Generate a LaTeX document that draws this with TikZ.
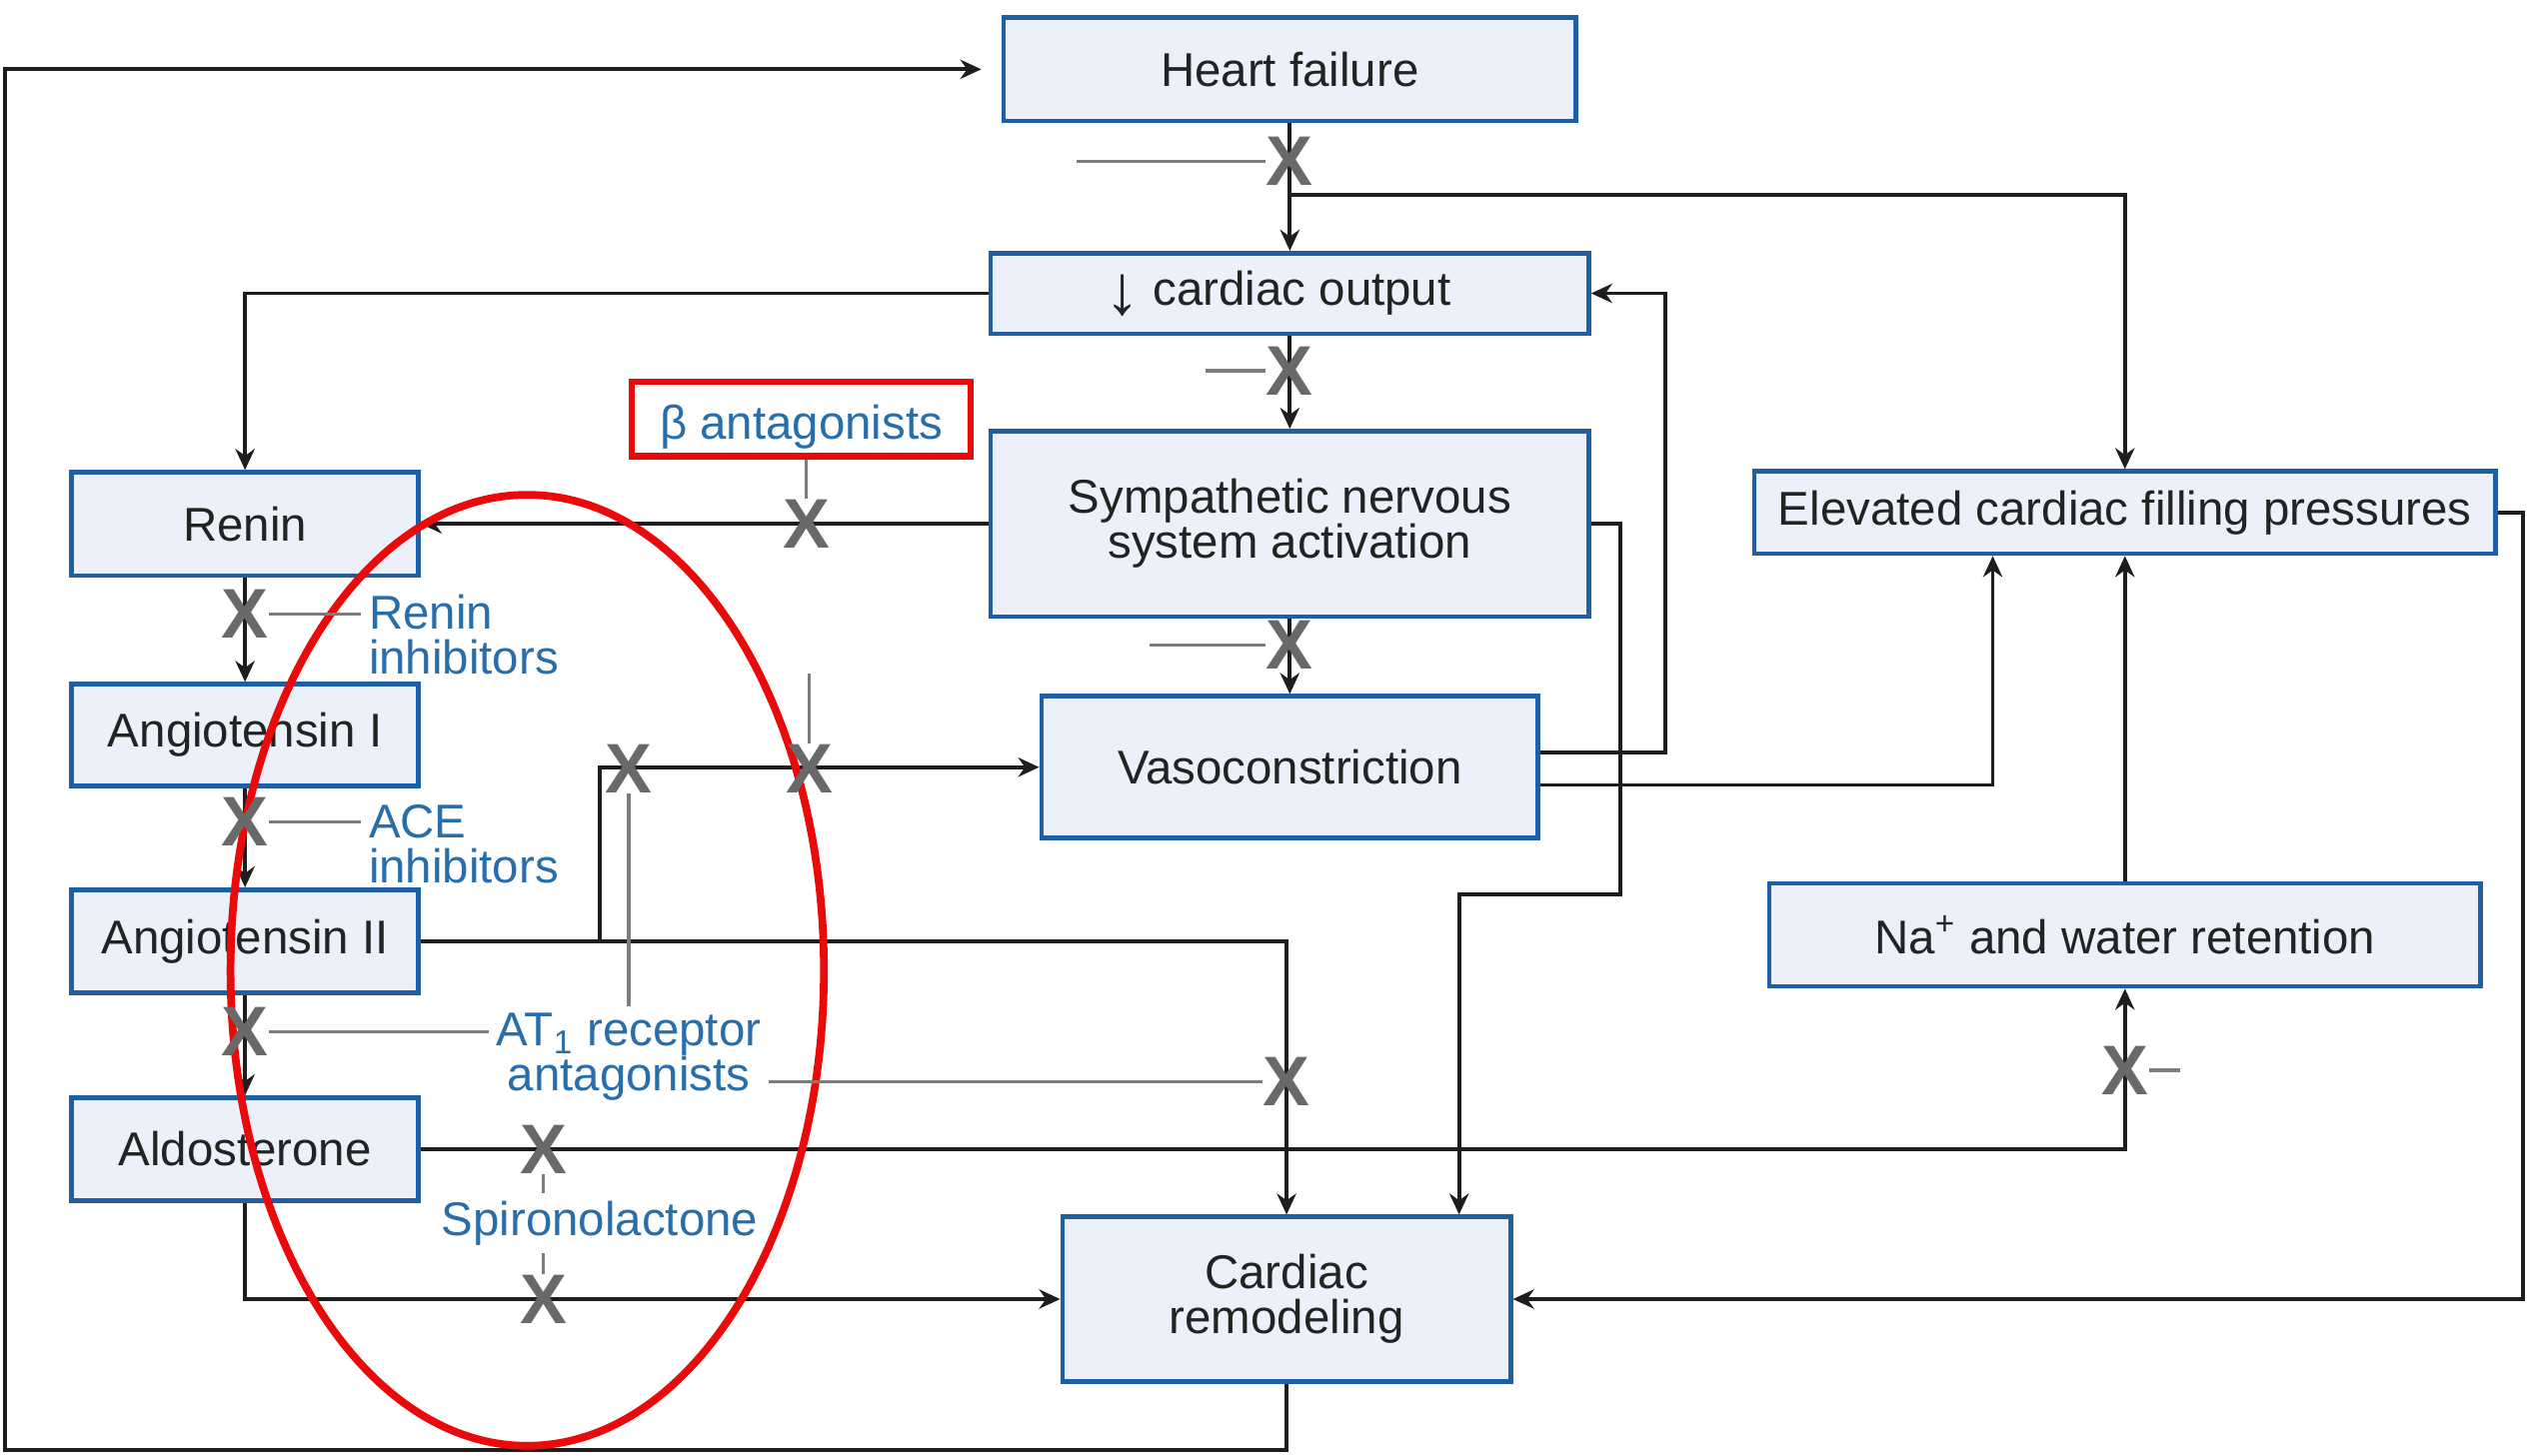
\documentclass[tikz,border=0pt]{standalone}
\usepackage{fontspec}
\setmainfont{Liberation Sans}
\usetikzlibrary{arrows.meta,calc}
\definecolor{boxblue}{RGB}{30,95,165}
\definecolor{boxfill}{RGB}{236,241,249}
\definecolor{lblblue}{RGB}{40,110,170}
\definecolor{xgray}{RGB}{105,105,105}
\definecolor{inhgray}{RGB}{125,125,125}
\definecolor{txt}{RGB}{35,35,35}
\definecolor{conncol}{RGB}{30,30,30}
\definecolor{hired}{RGB}{235,10,10}
\begin{document}
\begin{tikzpicture}[x=0.016129cm,y=-0.016129cm,
 box/.style={draw=boxblue,fill=boxfill,line width=1.3pt,text=txt,font=\fontsize{13.5}{12.8}\selectfont,align=center,inner sep=0pt},
 conn/.style={draw=conncol,line width=1.1pt},
 arr/.style={conn,-{Stealth[length=6pt,width=5.5pt]}},
 xmark/.style={text=xgray,font=\fontsize{20}{20}\bfseries,inner sep=0pt},
 inh/.style={draw=inhgray,line width=0.9pt},
 lbl/.style={text=lblblue,font=\fontsize{13.5}{12.8}\selectfont,inner sep=2pt},
 ]
\useasboundingbox (0,0) rectangle (1568,903);
% boxes
\node[box,minimum width=5.726cm,minimum height=1.032cm] (hf) at (800,43) {Heart failure};
\node[box,minimum width=5.984cm,minimum height=0.806cm] (co) at (800,182) {\raisebox{-0.35ex}{\fontsize{20}{20}\selectfont ↓} cardiac output\hspace{0.5em}};
\node[box,minimum width=5.984cm,minimum height=1.855cm] (sns) at (800,325) {Sympathetic nervous\\system activation};
\node[box,minimum width=4.968cm,minimum height=1.419cm] (vaso) at (800,476) {Vasoconstriction};
\node[box,minimum width=7.419cm,minimum height=0.823cm] (ecfp) at (1318,318) {Elevated cardiac filling pressures};
\node[box,minimum width=7.113cm,minimum height=1.032cm] (na) at (1318,580) {Na\textsuperscript{+} and water retention};
\node[box,minimum width=4.484cm,minimum height=1.645cm] (cr) at (798,806) {Cardiac\\remodeling};
\node[box,minimum width=3.468cm,minimum height=1.032cm] (renin) at (152,325) {Renin};
\node[box,minimum width=3.468cm,minimum height=1.016cm] (ang1) at (152,456) {Angiotensin I};
\node[box,minimum width=3.468cm,minimum height=1.032cm] (ang2) at (152,584) {Angiotensin II};
\node[box,minimum width=3.468cm,minimum height=1.032cm] (aldo) at (152,713) {Aldosterone};
\node[draw=hired,line width=1.8pt,minimum width=3.387cm,minimum height=0.742cm,text=lblblue,font=\fontsize{13.5}{14}\selectfont,inner sep=0pt,text height=14pt,text depth=2.8pt] (beta) at (497,260) {β antagonists};
% connectors
\draw[arr,shorten >=0.2cm] (cr.south) -- ++(0,41) -| (3,43) -- (hf.west);
\draw[arr] (hf.south) -- (co.north);
\draw[arr] (800,121) -| (ecfp.north);
\draw[arr] (co.west) -| (renin.north);
\draw[arr] (co.south) -- (sns.north);
\draw[arr] (sns.west) -- (renin.east);
\draw[arr] (sns.south) -- (vaso.north);
\draw[arr] (sns.east) -| (1005,555) -| ($(cr.north)+(107,0)$);
\draw[arr] ($(vaso.east)+(0,-9)$) -- (1033,467) |- (co.east);
\draw[arr] ($(vaso.east)+(0,11)$) -| ($(ecfp.south)+(-82,0)$);
\draw[arr] (na.north) -- (ecfp.south);
\draw[arr] (ecfp.east) -- (1565,318) |- (cr.east);
\draw[arr] (renin.south) -- (ang1.north);
\draw[arr] (ang1.south) -- (ang2.north);
\draw[arr] (ang2.south) -- (aldo.north);
\draw[arr] (ang2.east) -| (cr.north);
\draw[arr] (372,584) |- (vaso.west);
\draw[arr] (aldo.east) -| (na.south);
\draw[arr] (aldo.south) |- (cr.west);
% red ellipse
\draw[hired,line width=2.2pt] (327,602) ellipse [x radius=2.968cm, y radius=4.758cm];
% X marks
\node[xmark] (x1) at (800,100) {X};
\node[xmark] (x2) at (800,230) {X};
\node[xmark] (x3) at (500,325) {X};
\node[xmark] (x4) at (800,400) {X};
\node[xmark] (x5) at (152,381) {X};
\node[xmark] (x6) at (152,510) {X};
\node[xmark] (x7) at (152,640) {X};
\node[xmark] (x8) at (390,477) {X};
\node[xmark] (x9) at (502,477) {X};
\node[xmark] (x10) at (798,671) {X};
\node[xmark] (x11) at (337,713) {X};
\node[xmark] (x12) at (1318,664) {X};
\node[xmark] (x13) at (337,806) {X};
% labels
\node[lbl,anchor=west,align=left] (renlbl) at (224,394) {Renin\\inhibitors};
\node[lbl,anchor=west,align=left] (acelbl) at (224,524) {ACE\\inhibitors};
\node[lbl,align=center] (at1) at (390,656) {AT\textsubscript{1} receptor\\antagonists};
\node[lbl] (spiro) at (372,759) {Spironolactone};
% inhibitor lines
\draw[inh] (668,100) -- (x1.west);
\draw[inh] (748,230) -- (x2.west);
\draw[inh] (x3.north |- beta.south) -- (x3.north);
\draw[inh] (713,400) -- (x4.west);
\draw[inh] (x5.east) -- (x5.east -| renlbl.west);
\draw[inh] (x6.east) -- (x6.east -| acelbl.west);
\draw[inh] (x7.east) -- (x7.east -| at1.west);
\draw[inh] (x10.west -| at1.east) -- (x10.west);
\draw[inh] (x8.south) -- (at1.north);
\draw[inh] (502,418) -- (x9.north);
\draw[inh] (x11.south) -- (x11.south |- spiro.north);
\draw[inh] (x13.north |- spiro.south) -- (x13.north);
\draw[inh] (x12.east) -- (1352,664);
\end{tikzpicture}
\end{document}
